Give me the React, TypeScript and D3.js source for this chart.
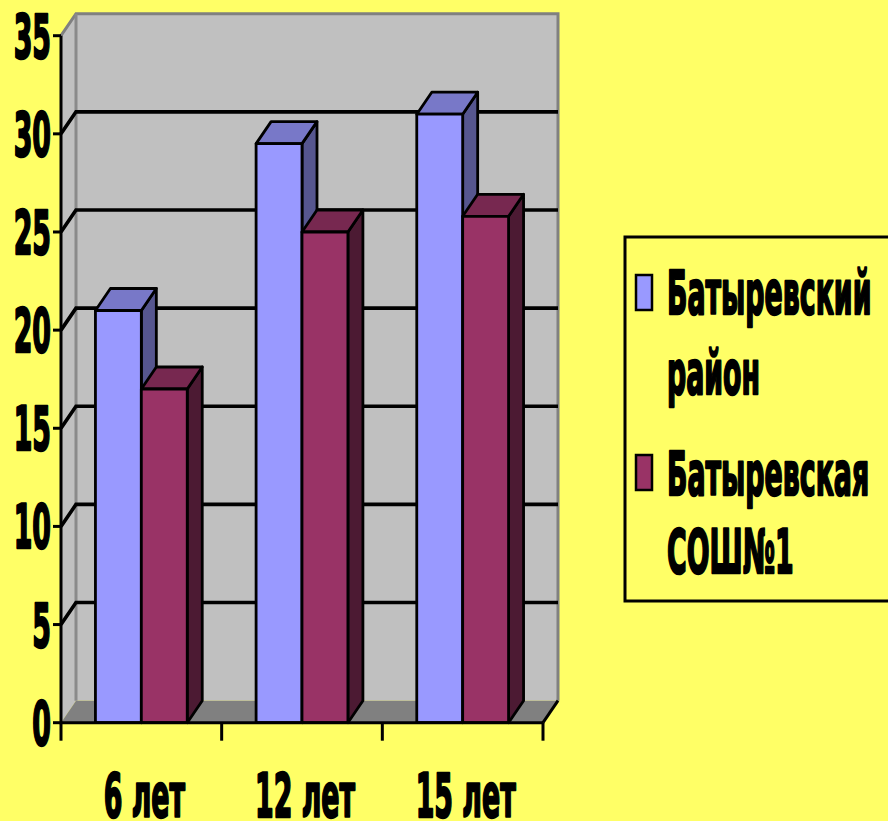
import React, { useEffect, useRef } from 'react'
import * as d3 from 'd3'

const categories = ['6 лет', '12 лет', '15 лет']
const seriesNames = ['Батыревский район', 'Батыревская СОШ№1']
const legendLines = [['Батыревский', 'район'], ['Батыревская', 'СОШ№1']]
const districtValues = [21, 29.5, 31]
const schoolValues = [17, 25, 25.8]
const yTicks = [0, 5, 10, 15, 20, 25, 30, 35]

const W = 888
const H = 821
const DX = 15
const DY = -22
const FONT = 'DejaVu Sans, Verdana, sans-serif'
const SX = 0.44

const faceColors = [
    { front: '#9999ff', top: '#7878c8', side: '#56568f' },
    { front: '#993366', top: '#772850', side: '#4c1a33' },
]

export default function App() {
    const ref = useRef<SVGSVGElement>(null)

    useEffect(() => {
        const svg = d3.select(ref.current)
        svg.selectAll('*').remove()

        const y = d3.scaleLinear().domain([0, 35]).range([722.7, 35.7])
        const x0 = d3.scaleBand().domain(categories).range([61, 543]).padding(0)
        const x1 = d3.scaleBand().domain(seriesNames).range([0, x0.bandwidth()])
            .paddingInner(0).paddingOuter(0.75)

        svg.append('rect').attr('width', W).attr('height', H).attr('fill', '#ffff66')

        const [xl, xr] = x0.range()
        const yb = y(0), yt = y(35)

        // walls and floor
        svg.append('rect')
            .attr('x', xl + DX).attr('y', yt + DY)
            .attr('width', xr - xl).attr('height', yb - yt)
            .attr('fill', '#c0c0c0')
        svg.append('path')
            .attr('d', d3.line()([[xl, yt], [xl + DX, yt + DY], [xl + DX, yb + DY], [xl, yb]]) + 'Z')
            .attr('fill', '#c0c0c0')
        svg.append('path')
            .attr('d', d3.line()([[xl, yb], [xl + DX, yb + DY], [xr + DX, yb + DY], [xr, yb]]) + 'Z')
            .attr('fill', '#808080')

        // wall edges
        svg.append('path')
            .attr('d', d3.line()([[xl, yt], [xl + DX, yt + DY], [xr + DX, yt + DY], [xr + DX, yb + DY]]))
            .attr('fill', 'none').attr('stroke', '#808080').attr('stroke-width', 3)
        svg.append('path')
            .attr('d', d3.line()([[xl + DX, yt + DY], [xl + DX, yb + DY]]))
            .attr('fill', 'none').attr('stroke', '#8a8a8a').attr('stroke-width', 3)

        // gridlines
        yTicks.filter(v => v > 0 && v < 35).forEach(v => {
            svg.append('path')
                .attr('d', d3.line()([[xl, y(v)], [xl + DX, y(v) + DY], [xr + DX, y(v) + DY]]))
                .attr('fill', 'none').attr('stroke', 'black').attr('stroke-width', 3.6)
        })

        // bars
        const series = [districtValues, schoolValues]
        categories.forEach((c, i) => {
            series.forEach((vals, s) => {
                const bx0 = (x0(c) as number) + (x1(seriesNames[s]) as number)
                const bx1 = bx0 + x1.bandwidth()
                const yv = y(vals[i])
                const col = faceColors[s]
                const g = svg.append('g')
                    .attr('stroke', 'black').attr('stroke-width', 2.8).attr('stroke-linejoin', 'round')
                g.append('path')
                    .attr('d', d3.line()([[bx1, yv], [bx1 + DX, yv + DY], [bx1 + DX, yb + DY], [bx1, yb]]) + 'Z')
                    .attr('fill', col.side)
                g.append('path')
                    .attr('d', d3.line()([[bx0, yv], [bx0 + DX, yv + DY], [bx1 + DX, yv + DY], [bx1, yv]]) + 'Z')
                    .attr('fill', col.top)
                g.append('rect')
                    .attr('x', bx0).attr('y', yv)
                    .attr('width', bx1 - bx0).attr('height', yb - yv)
                    .attr('fill', col.front)
            })
        })

        // floor right edge and axes
        svg.append('path')
            .attr('d', d3.line()([[xr, yb], [xr + DX, yb + DY]]))
            .attr('stroke', 'black').attr('stroke-width', 3)
        svg.append('path')
            .attr('d', d3.line()([[xl, yt], [xl, yb], [xr, yb]]))
            .attr('fill', 'none').attr('stroke', 'black').attr('stroke-width', 3)

        // heavy text helper
        const label = (tx: number, ty: number, txt: string | number, anchor: string, dy = '0') =>
            svg.append('text')
                .attr('transform', `translate(${tx},${ty}) scale(${SX},1)`)
                .attr('dy', dy)
                .attr('text-anchor', anchor)
                .attr('stroke', 'black').attr('stroke-width', 2.5).attr('stroke-linejoin', 'round')
                .style('font', `bold 61px ${FONT}`)
                .text(txt)

        // y ticks and labels
        yTicks.forEach(v => {
            svg.append('path')
                .attr('d', d3.line()([[xl - 8, y(v)], [xl, y(v)]]))
                .attr('stroke', 'black').attr('stroke-width', 3)
            label(xl - 10, y(v), v, 'end', '0.36em')
        })

        // x ticks and labels
        const xTickPos = categories.map(c => x0(c) as number).concat([xr])
        xTickPos.forEach(px => {
            svg.append('path')
                .attr('d', d3.line()([[px, yb], [px, yb + 18]]))
                .attr('stroke', 'black').attr('stroke-width', 3)
        })
        categories.forEach(c => {
            label((x0(c) as number) + x0.bandwidth() / 2 + 3, 817, c, 'middle')
        })

        // legend
        svg.append('rect')
            .attr('x', 625).attr('y', 237).attr('width', 280).attr('height', 364)
            .attr('fill', '#ffff66').attr('stroke', 'black').attr('stroke-width', 3)
        const legendTop = [275, 455]
        const baselines = [[314, 394], [495, 573]]
        seriesNames.forEach((s, k) => {
            svg.append('rect')
                .attr('x', 636).attr('y', legendTop[k]).attr('width', 16).attr('height', 35)
                .attr('fill', faceColors[k].front).attr('stroke', 'black').attr('stroke-width', 2.5)
            legendLines[k].forEach((line, j) => {
                label(667, baselines[k][j], line, 'start')
            })
        })
    }, [])

    return (
        <svg ref={ref} width={W} height={H}
            style={{ position: 'absolute', left: 0, top: 0, display: 'block' }} />
    )
}
